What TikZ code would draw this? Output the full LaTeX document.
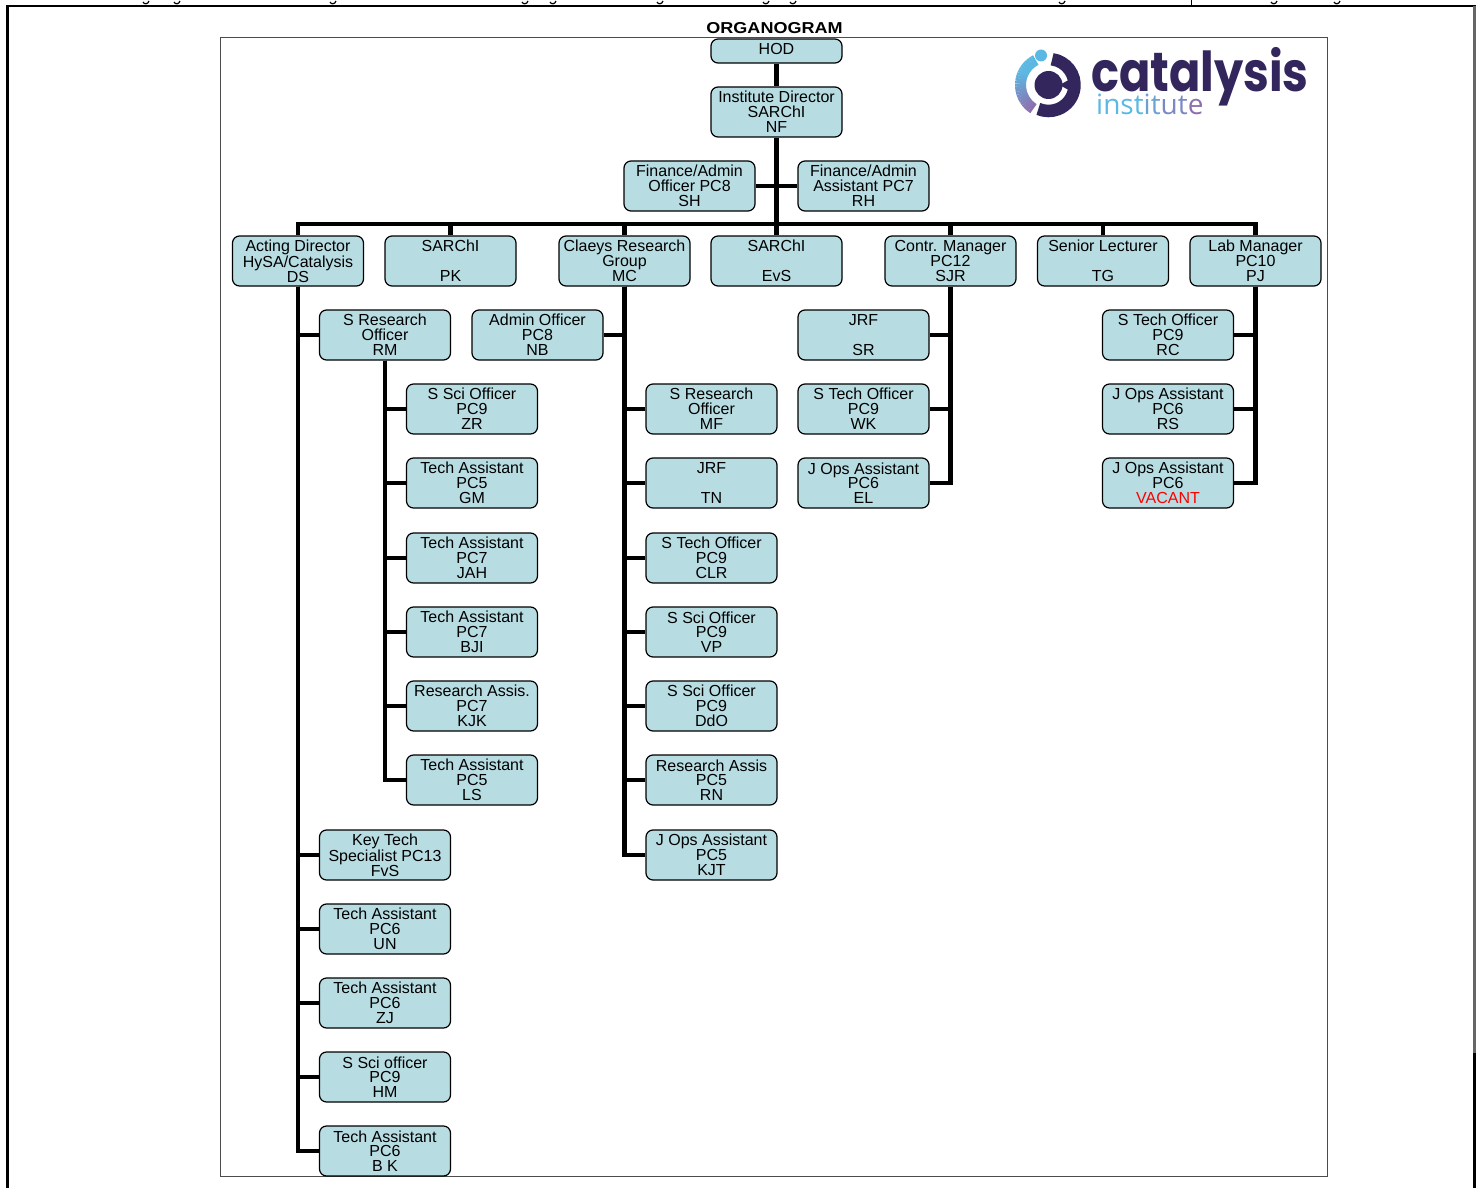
\documentclass[tikz,border=0pt]{standalone}
\usepackage{fontspec}
\setmainfont{Liberation Sans}
\newfontfamily\logofont{Poppins}
\newfontfamily\instfont{Open Sans}
\usepackage{tikz}
\definecolor{postfill}{HTML}{B7DDE3}
\definecolor{logodark}{HTML}{33265C}
\definecolor{logoblue}{HTML}{5CB8E2}
\definecolor{logopurple}{HTML}{8E6FAE}
\tikzset{
  post/.style={draw=black, fill=postfill, line width=1.2pt, rounded corners=7pt,
    minimum width=131pt, minimum height=50pt, inner sep=0pt, align=center,
    font=\fontsize{16}{14.8}\selectfont},
  wire/.style={line width=4.4pt, black},
}

\begin{document}
\begin{tikzpicture}[x=1pt, y=-1pt]
\useasboundingbox (0,0) rectangle (1481,1188);
% page frame and the picture frame
\draw[line width=2.5pt] (7.5,1188) -- (7.5,6) -- (1475.5,6);
\draw[line width=2.5pt, black!60] (1474.5,6) -- (1474.5,1053);
\draw[line width=2.5pt] (1474.5,1053) -- (1474.5,1188);
\draw[line width=1pt, black!70] (220,37.5) rectangle (1327,1176.5);
\foreach \tx in {146,177,333,525,553,660,766,793,1062,1274,1337}
  \draw[line width=1.2pt] (\tx-3,2) .. controls (\tx-2,4.5) and (\tx+2,4.5) .. (\tx+3,1);
\draw[line width=1pt] (1191,0) -- (1191,5);

\node[font=\fontsize{15.8}{16}\selectfont\bfseries] (title) at (774.5,28) {\scalebox{1.14}[1]{ORGANOGRAM}};

% logo
\begin{scope}[shift={(1048.5,85)}, x=1pt, y=1pt]
\foreach \i in {0,...,23} {
  \pgfmathsetmacro{\mixval}{\i<8 ? 0 : (\i-7)*6.25}
  \pgfmathsetmacro{\angA}{117+\i*5}
  \draw[logopurple!\mixval!logoblue, line width=11pt] (\angA:28pt) arc[start angle=\angA, end angle=\angA+5.6, radius=28pt];
}
\fill[logoblue] (-7.5,29.5) circle (6pt);
\draw[logodark, line width=12.5pt] (82:26pt) arc[start angle=82, end angle=-113, radius=26pt];
\fill[logodark] (0,0) circle (14pt);
\fill[logodark] (22,6) -- (11,0) -- (22,-6) -- cycle;
\end{scope}
\node[logodark, anchor=base west, inner sep=0pt, font=\logofont\bfseries\fontsize{55}{55}\selectfont] (logoname) at (1091,92) {\scalebox{.84}[1]{catalysis}};
\node[anchor=base west, inner sep=0pt, font=\instfont\fontsize{28}{28}\selectfont] (logosub) at (1096,115)
  {\textcolor{logoblue}{inst}\textcolor{logoblue!70!logopurple}{it}\textcolor{logoblue!35!logopurple}{ut}\textcolor{logopurple}{e}};

% head of department and director
\node[post, minimum height=24pt] (hod) at (776.5,51) {\raisebox{4.5pt}{HOD}};
\node[post] (nf) at (776.5,112) {Institute Director\\SARChI\\NF};
\node[post] (sh) at (689.5,186) {Finance/Admin\\Officer PC8\\SH};
\node[post] (rh) at (863.5,186) {Finance/Admin\\Assistant PC7\\RH};

% second row
\node[post] (ds) at (298,261) {Acting Director\\HySA/Catalysis\\DS};
\node[post] (pk) at (450.5,261) {SARChI\\\mbox{}\\PK};
\node[post] (mc) at (624.5,261) {Claeys Research\\Group\\MC};
\node[post] (evs) at (776.5,261) {SARChI\\\mbox{}\\EvS};
\node[post] (sjr) at (950.5,261) {Contr. Manager\\PC12\\SJR};
\node[post] (tg) at (1103,261) {Senior Lecturer\\\mbox{}\\TG};
\node[post] (pj) at (1255.5,261) {Lab Manager\\PC10\\PJ};

% under DS
\node[post] (rm) at (385,335) {S Research\\Officer\\RM};
\node[post] (fvs) at (385,855) {Key Tech\\Specialist PC13\\FvS};
\node[post] (un) at (385,929) {Tech Assistant\\PC6\\UN};
\node[post] (zj) at (385,1003) {Tech Assistant\\PC6\\ZJ};
\node[post] (hm) at (385,1077) {S Sci officer\\PC9\\HM};
\node[post] (bk) at (385,1151) {Tech Assistant\\PC6\\B K};

% under RM
\node[post] (zr) at (472,409) {S Sci Officer\\PC9\\ZR};
\node[post] (gm) at (472,483) {Tech Assistant\\PC5\\GM};
\node[post] (jah) at (472,558) {Tech Assistant\\PC7\\JAH};
\node[post] (bji) at (472,632) {Tech Assistant\\PC7\\BJI};
\node[post] (kjk) at (472,706) {Research Assis.\\PC7\\KJK};
\node[post] (ls) at (472,780) {Tech Assistant\\PC5\\LS};

% under MC
\node[post] (nb) at (537.5,335) {Admin Officer\\PC8\\NB};
\node[post] (mf) at (711.5,409) {S Research\\Officer\\MF};
\node[post] (tn) at (711.5,483) {JRF\\\mbox{}\\TN};
\node[post] (clr) at (711.5,558) {S Tech Officer\\PC9\\CLR};
\node[post] (vp) at (711.5,632) {S Sci Officer\\PC9\\VP};
\node[post] (ddo) at (711.5,706) {S Sci Officer\\PC9\\DdO};
\node[post] (rn) at (711.5,780) {Research Assis\\PC5\\RN};
\node[post] (kjt) at (711.5,855) {J Ops Assistant\\PC5\\KJT};

% under SJR
\node[post] (sr) at (863.5,335) {JRF\\\mbox{}\\SR};
\node[post] (wk) at (863.5,409) {S Tech Officer\\PC9\\WK};
\node[post] (el) at (863.5,483) {J Ops Assistant\\PC6\\EL};

% under PJ
\node[post] (rc) at (1168,335) {S Tech Officer\\PC9\\RC};
\node[post] (rs) at (1168,409) {J Ops Assistant\\PC6\\RS};
\node[post] (vac) at (1168,483) {J Ops Assistant\\PC6\\\textcolor{red}{VACANT}};

% connectors
\coordinate (bus) at (776.5,224);
\draw[wire] (hod) -- (nf);
\draw[wire] (nf) -- (evs);
\draw[wire] (sh) -- (rh);
\foreach \top in {ds,pk,mc,sjr,tg,pj}
  \draw[wire] (\top.north) |- (bus);
\foreach \kid in {rm,fvs,un,zj,hm,bk}
  \draw[wire] (ds.south) |- (\kid.west);
\foreach \kid in {zr,gm,jah,bji,kjk,ls}
  \draw[wire] (rm.south) |- (\kid.west);
\foreach \kid in {mf,tn,clr,vp,ddo,rn,kjt}
  \draw[wire] (mc.south) |- (\kid.west);
\draw[wire] (mc.south) |- (nb.east);
\foreach \kid in {sr,wk,el}
  \draw[wire] (sjr.south) |- (\kid.east);
\foreach \kid in {rc,rs,vac}
  \draw[wire] (pj.south) |- (\kid.east);
\end{tikzpicture}
\end{document}
